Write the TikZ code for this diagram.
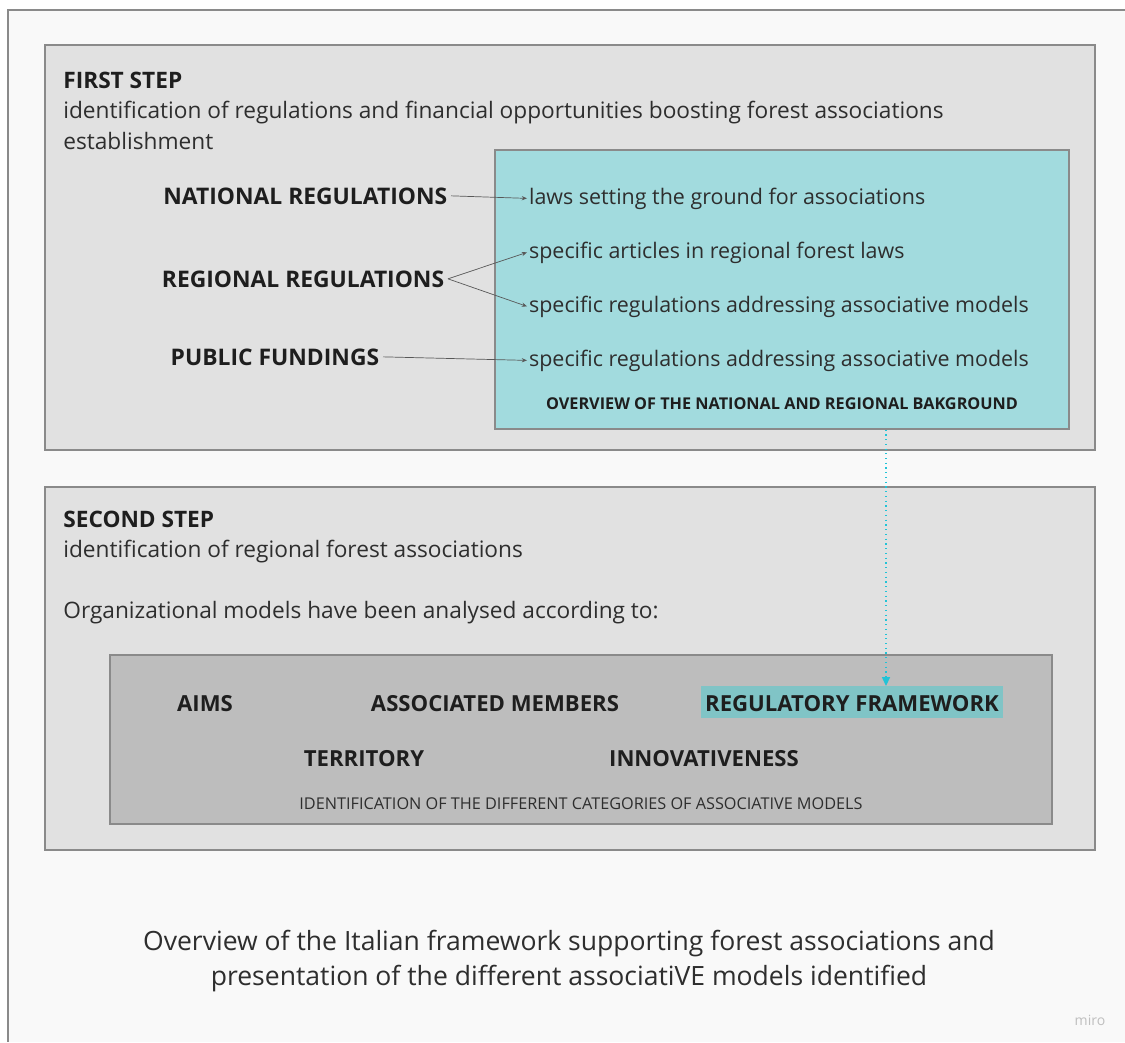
\documentclass[tikz,border=0pt]{standalone}
\usepackage{fontspec}
\setmainfont{Open Sans}
\usepackage{tikz}
\usetikzlibrary{positioning,fit,arrows.meta}

\definecolor{sfondo}{HTML}{F9F9F9}
\definecolor{grigio}{HTML}{E1E1E1}
\definecolor{grigioscuro}{HTML}{BDBDBD}
\definecolor{bordo}{HTML}{8A8A8A}
\definecolor{acqua}{HTML}{A2DBDE}
\definecolor{acquascuro}{HTML}{80C4C6}
\definecolor{freccia}{HTML}{22C3D6}
\definecolor{testo}{HTML}{2E2E2E}
\definecolor{nero}{HTML}{1E1E1E}

\begin{document}
\begin{tikzpicture}[x=0.02cm, y=-0.02cm,
    every node/.style={text=testo, inner sep=0pt},
    riquadro/.style={fill=grigio, draw=bordo, line width=0.6pt, inner sep=0pt},
    corpo/.style={anchor=base west, font=\fontsize{12.9}{15}\selectfont},
    titolo/.style={anchor=base west, text=nero, font=\fontsize{12.9}{15}\selectfont\bfseries},
    voce/.style={anchor=base east, text=nero, font=\fontsize{13}{15}\selectfont\bfseries, inner xsep=2pt},
    dettaglio/.style={anchor=base west, font=\fontsize{12.2}{15}\selectfont, inner xsep=1pt},
    criterio/.style={anchor=base, text=nero, font=\fontsize{12.6}{15}\selectfont\bfseries},
    collega/.style={draw=testo!80, line width=0.4pt, -{Stealth[length=3pt, width=2.4pt]}}]
    \useasboundingbox (0,0) rectangle (1125,1042);
    % SFONDO
    \fill[white] (0,0) rectangle (1125,1042);
    \fill[sfondo] (8,10) rectangle (1125,1042);
    \draw[bordo, line width=0.6pt] (1125,10) -- (8,10) -- (8,1042);

    % RIQUADRI
    \node[riquadro, fit={(45,45) (1095,450)}] (primo) {};
    \node[riquadro, fill=acqua, fit={(495,150) (1069,429)}] (quadro) {};
    \node[riquadro, fit={(45,487) (1095,850)}] (secondo) {};
    \node[riquadro, fill=grigioscuro, fit={(110,655) (1052,824)}] (criteri) {};
    \node[fill=acquascuro, fit={(701,686) (1003,718)}] (evidenza) {};

    % PRIMO PASSO
    \node[titolo] (t1) at (63,88) {FIRST STEP};
    \node[corpo] (d1) at (63,118) {identification of regulations and financial opportunities boosting forest associations};
    \node[corpo] (d1b) at (63,149) {establishment};

    \node[voce] (naz) at (451,204) {NATIONAL REGULATIONS};
    \node[voce] (reg) at (448,287) {REGIONAL REGULATIONS};
    \node[voce] (pub) at (383,365) {PUBLIC FUNDINGS};

    \node[dettaglio] (leggi) at (527,204) {laws setting the ground for associations};
    \node[dettaglio] (articoli) at (527,258) {specific articles in regional forest laws};
    \node[dettaglio] (modelli) at (527,312) {specific regulations addressing associative models};
    \node[dettaglio] (fondi) at (527,366) {specific regulations addressing associative models};
    \node[anchor=base, text=nero, font=\fontsize{9.25}{11}\selectfont\bfseries] (sintesi) at (782,409) {OVERVIEW OF THE NATIONAL AND REGIONAL BAKGROUND};

    % FRECCE
    \draw[collega] (naz.east) -- (leggi.west);
    \draw[collega] (reg.east) -- (articoli.west);
    \draw[collega] (reg.east) -- (modelli.west);
    \draw[collega] (pub.east) -- (fondi.west);

    % SECONDO PASSO
    \node[titolo] (t2) at (63,527) {SECOND STEP};
    \node[corpo] (d2) at (63,557) {identification of regional forest associations};
    \node[corpo] (d2b) at (63,618) {Organizational models have been analysed according to:};

    \node[criterio] (scopi) at (205,711) {AIMS};
    \node[criterio] (soci) at (495,711) {ASSOCIATED MEMBERS};
    \node[criterio] (norme) at (852,711) {REGULATORY FRAMEWORK};
    \node[criterio] (territorio) at (364,766) {TERRITORY};
    \node[criterio] (innovazione) at (704,766) {INNOVATIVENESS};
    \node[anchor=base, font=\fontsize{9.25}{11}\selectfont] (categorie) at (581,809) {IDENTIFICATION OF THE DIFFERENT CATEGORIES OF ASSOCIATIVE MODELS};

    \coordinate (giu) at (886,686);
    \draw[freccia, dotted, line width=0.7pt, -{Triangle[length=5pt, width=4.5pt]}] (quadro.south -| giu) -- (giu);

    % DIDASCALIA
    \node[anchor=base, font=\fontsize{15.1}{18}\selectfont] (cap1) at (569,950) {Overview of the Italian framework supporting forest associations and};
    \node[anchor=base, font=\fontsize{15.1}{18}\selectfont] (cap2) at (569,985) {presentation of the different associatiVE models identified};
    \node[anchor=base, font=\fontsize{8}{10}\selectfont, text=black!25] (miro) at (1090,1025) {miro};
\end{tikzpicture}
\end{document}
